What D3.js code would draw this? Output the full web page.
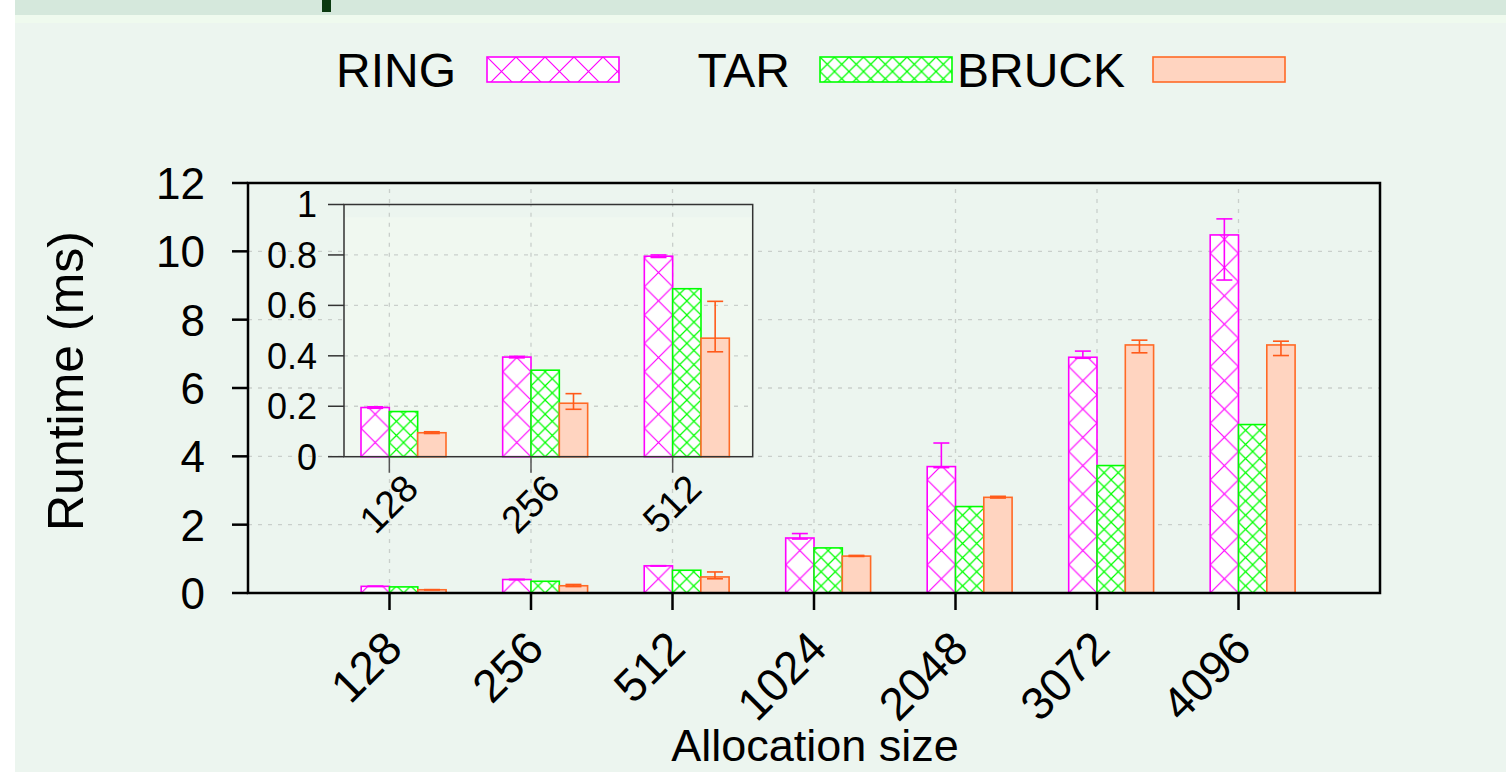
<!DOCTYPE html>
<html>
<head>
<meta charset="utf-8">
<script src="https://cdn.jsdelivr.net/npm/d3@7"></script>
<style>
html,body{margin:0;padding:0;background:#ffffff;}
svg{display:block;}
text{font-family:"Liberation Sans",Arial,Helvetica,sans-serif;fill:#000;}
</style>
</head>
<body>
<svg id="chart" width="1506" height="772"></svg>
<script>
// ---------- data ----------
const categories = ["128", "256", "512", "1024", "2048", "3072", "4096"];
const seriesNames = ["RING", "TAR", "BRUCK"];
const ringValues  = [0.195, 0.395, 0.795, 1.61, 3.70, 6.90, 10.48];
const tarValues   = [0.179, 0.343, 0.666, 1.32, 2.53, 3.73, 4.93];
const bruckValues = [0.095, 0.212, 0.470, 1.08, 2.80, 7.26, 7.26];
const ringErrLow   = [0.192, 0.392, 0.790, 1.58, 3.67, 6.87, 9.16];
const ringErrHigh  = [0.198, 0.398, 0.800, 1.74, 4.39, 7.08, 10.95];
const bruckErrLow  = [0.092, 0.188, 0.416, 1.07, 2.78, 7.03, 6.95];
const bruckErrHigh = [0.099, 0.250, 0.616, 1.10, 2.83, 7.40, 7.37];
const yTicks = [0, 2, 4, 6, 8, 10, 12];
const insetCategories = ["128", "256", "512"];
const insetYTicks = [0, 0.2, 0.4, 0.6, 0.8, 1];
const insetYTickLabels = ["0", "0.2", "0.4", "0.6", "0.8", "1"];

const colors = {
  ring: "#ff00ff", tar: "#00ff00", bruckStroke: "#ff6a26", bruckFill: "#ffd4c0",
  bruckErr: "#ff5a1a", bg: "#ecf5ef", insetBg: "#f0f8f0"
};

const svg = d3.select("#chart");
const W = 1506, H = 772;

// ---------- page background ----------
svg.append("rect").attr("x", 0).attr("y", 0).attr("width", W).attr("height", H).attr("fill", "#ffffff");
svg.append("rect").attr("x", 15).attr("y", 0).attr("width", W - 15).attr("height", H).attr("fill", colors.bg);
svg.append("rect").attr("x", 15).attr("y", 0).attr("width", W - 15).attr("height", 15).attr("fill", "#d5e8dc");
svg.append("rect").attr("x", 15).attr("y", 15).attr("width", W - 15).attr("height", 8).attr("fill", "#effaee");
svg.append("rect").attr("x", 322).attr("y", 0).attr("width", 9).attr("height", 12).attr("fill", "#0b3a10");

// ---------- scales ----------
const x = d3.scaleLinear().domain([-1, 7]).range([248, 1380]);
const y = d3.scaleLinear().domain([0, 12]).range([593, 183]);
const xi = d3.scaleLinear().domain([-0.32, 2.565]).range([344, 752.7]);
const yi = d3.scaleLinear().domain([0, 1]).range([456.7, 204.5]);

const barW = 0.2;
const offsets = [-0.2, 0, 0.2];

// ---------- patterns ----------
const defs = svg.append("defs");
function makePattern(id, size, ox, oy, stroke, sw) {
  const p = defs.append("pattern").attr("id", id).attr("patternUnits", "userSpaceOnUse")
    .attr("width", size).attr("height", size).attr("x", ox).attr("y", oy);
  p.append("rect").attr("width", size).attr("height", size).attr("fill", "#ffffff");
  p.append("path").attr("d", `M0,0L${size},${size}M${size},0L0,${size}`)
    .attr("stroke", stroke).attr("stroke-width", sw).attr("fill", "none");
}
const pw = x(barW) - x(0);
makePattern("pRing", pw, x(-0.2), y(0), colors.ring, 1.2);
makePattern("pTar", pw / 2, x(0), y(0), colors.tar, 1.2);
const pwi = xi(barW) - xi(0);
makePattern("pRingI", pwi, xi(-0.2), yi(0), colors.ring, 1.2);
makePattern("pTarI", pwi / 2, xi(0), yi(0), colors.tar, 1.2);
makePattern("pRingL", 29, 487, 57, colors.ring, 1.2);
makePattern("pTarL", 14.5, 820, 57, colors.tar, 1.2);

const gridStyle = g => g.attr("stroke", "#c9cfcb").attr("stroke-width", 1.3).attr("stroke-dasharray", "4,6");

// ---------- main grid ----------
const gMain = svg.append("g");
gMain.selectAll("line.hg").data(yTicks.filter(t => t > 0 && t < 12)).join("line")
  .attr("x1", x(-1)).attr("x2", x(7)).attr("y1", d => y(d)).attr("y2", d => y(d)).call(gridStyle);
gMain.selectAll("line.vg").data(categories).join("line")
  .attr("x1", (d, i) => x(i)).attr("x2", (d, i) => x(i)).attr("y1", y(0)).attr("y2", y(12)).call(gridStyle);

// ---------- bars ----------
function drawBars(g, xs, ys, cats, fills) {
  const series = [
    { vals: ringValues, fill: fills[0], stroke: colors.ring, lo: ringErrLow, hi: ringErrHigh, ec: colors.ring },
    { vals: tarValues, fill: fills[1], stroke: colors.tar, lo: null, hi: null },
    { vals: bruckValues, fill: colors.bruckFill, stroke: colors.bruckStroke, lo: bruckErrLow, hi: bruckErrHigh, ec: colors.bruckErr }
  ];
  series.forEach((s, j) => {
    g.selectAll(null).data(cats).join("rect")
      .attr("x", (d, i) => xs(i + offsets[j]))
      .attr("width", xs(barW) - xs(0))
      .attr("y", (d, i) => ys(s.vals[i]))
      .attr("height", (d, i) => ys(0) - ys(s.vals[i]))
      .attr("fill", s.fill).attr("stroke", s.stroke).attr("stroke-width", 1.6);
  });
  series.forEach((s, j) => {
    if (!s.lo) return;
    const cx = i => xs(i + offsets[j] + barW / 2);
    const eg = g.append("g").attr("stroke", s.ec).attr("stroke-width", 1.6);
    eg.selectAll(null).data(cats).join("line")
      .attr("x1", (d, i) => cx(i)).attr("x2", (d, i) => cx(i))
      .attr("y1", (d, i) => ys(s.lo[i])).attr("y2", (d, i) => ys(s.hi[i]));
    ["lo", "hi"].forEach(k => {
      eg.selectAll(null).data(cats).join("line")
        .attr("x1", (d, i) => cx(i) - 8).attr("x2", (d, i) => cx(i) + 8)
        .attr("y1", (d, i) => ys(s[k][i])).attr("y2", (d, i) => ys(s[k][i]));
    });
  });
}
drawBars(svg.append("g"), x, y, categories, ["url(#pRing)", "url(#pTar)"]);

// ---------- main axes / frame ----------
const gAx = svg.append("g");
gAx.append("rect").attr("x", x(-1)).attr("y", y(12)).attr("width", x(7) - x(-1)).attr("height", y(0) - y(12))
  .attr("fill", "none").attr("stroke", "#000").attr("stroke-width", 2.5);
gAx.selectAll("line.yt").data(yTicks).join("line")
  .attr("x1", x(-1) - 16).attr("x2", x(-1)).attr("y1", d => y(d)).attr("y2", d => y(d))
  .attr("stroke", "#000").attr("stroke-width", 2.5);
gAx.selectAll("line.xt").data(categories).join("line")
  .attr("x1", (d, i) => x(i)).attr("x2", (d, i) => x(i)).attr("y1", y(0)).attr("y2", y(0) + 17)
  .attr("stroke", "#000").attr("stroke-width", 2.5);
gAx.selectAll("text.yl").data(yTicks).join("text")
  .attr("x", 205).attr("y", d => y(d)).attr("dy", "0.36em").attr("text-anchor", "end")
  .attr("font-size", 44).text(d => d);
gAx.selectAll("text.xl").data(categories).join("text")
  .attr("text-anchor", "end").attr("font-size", 46)
  .attr("transform", (d, i) => `translate(${x(i) + 15},${y(0) + 58}) rotate(-45)`)
  .text(d => d);

// axis titles
svg.append("text").attr("text-anchor", "middle").attr("font-size", 50)
  .attr("transform", `translate(83,381) rotate(-90)`).text("Runtime (ms)");
svg.append("text").attr("text-anchor", "middle").attr("font-size", 45)
  .attr("x", 815).attr("y", 761).text("Allocation size");

// ---------- inset ----------
const gIn = svg.append("g");
gIn.append("rect").attr("x", xi(-0.32)).attr("y", yi(1)).attr("width", xi(2.565) - xi(-0.32)).attr("height", yi(0) - yi(1))
  .attr("fill", colors.bg);
gIn.append("rect").attr("x", xi(-0.32)).attr("y", yi(0.95)).attr("width", xi(2.565) - xi(-0.32)).attr("height", yi(0) - yi(0.95))
  .attr("fill", colors.insetBg);
gIn.selectAll("line.hg").data(insetYTicks.filter(t => t > 0 && t < 1)).join("line")
  .attr("x1", xi(-0.32)).attr("x2", xi(2.565)).attr("y1", d => yi(d)).attr("y2", d => yi(d)).call(gridStyle);
gIn.selectAll("line.vg").data(insetCategories).join("line")
  .attr("x1", (d, i) => xi(i)).attr("x2", (d, i) => xi(i)).attr("y1", yi(0)).attr("y2", yi(1)).call(gridStyle);
drawBars(gIn.append("g"), xi, yi, insetCategories, ["url(#pRingI)", "url(#pTarI)"]);
gIn.append("rect").attr("x", xi(-0.32)).attr("y", yi(1)).attr("width", xi(2.565) - xi(-0.32)).attr("height", yi(0) - yi(1))
  .attr("fill", "none").attr("stroke", "#333").attr("stroke-width", 1.5);
gIn.selectAll("line.yt").data(insetYTicks).join("line")
  .attr("x1", xi(-0.32) - 16).attr("x2", xi(-0.32)).attr("y1", d => yi(d)).attr("y2", d => yi(d))
  .attr("stroke", "#333").attr("stroke-width", 1.5);
gIn.selectAll("line.xt").data(insetCategories).join("line")
  .attr("x1", (d, i) => xi(i)).attr("x2", (d, i) => xi(i)).attr("y1", yi(0)).attr("y2", yi(0) + 16)
  .attr("stroke", "#555").attr("stroke-width", 1.5);
gIn.selectAll("text.yl").data(insetYTicks).join("text")
  .attr("x", 317).attr("y", d => yi(d)).attr("dy", "0.36em").attr("text-anchor", "end")
  .attr("font-size", 36).text((d, i) => insetYTickLabels[i]);
gIn.selectAll("text.xl").data(insetCategories).join("text")
  .attr("text-anchor", "end").attr("font-size", 38)
  .attr("transform", (d, i) => `translate(${xi(i) + 31},${yi(0) + 34}) rotate(-45)`)
  .text(d => d);

// ---------- legend ----------
const legendItems = [
  { name: seriesNames[0], textX: 456, boxX: 487, fill: "url(#pRingL)", stroke: colors.ring },
  { name: seriesNames[1], textX: 790, boxX: 820, fill: "url(#pTarL)", stroke: colors.tar },
  { name: seriesNames[2], textX: 1125, boxX: 1153, fill: colors.bruckFill, stroke: colors.bruckStroke }
];
const gL = svg.append("g");
legendItems.forEach(it => {
  gL.append("text").attr("x", it.textX).attr("y", 87).attr("text-anchor", "end").attr("font-size", 48).text(it.name);
  gL.append("rect").attr("x", it.boxX).attr("y", 57).attr("width", 132).attr("height", 25)
    .attr("fill", it.fill).attr("stroke", it.stroke).attr("stroke-width", 1.6);
});
</script>
</body>
</html>
